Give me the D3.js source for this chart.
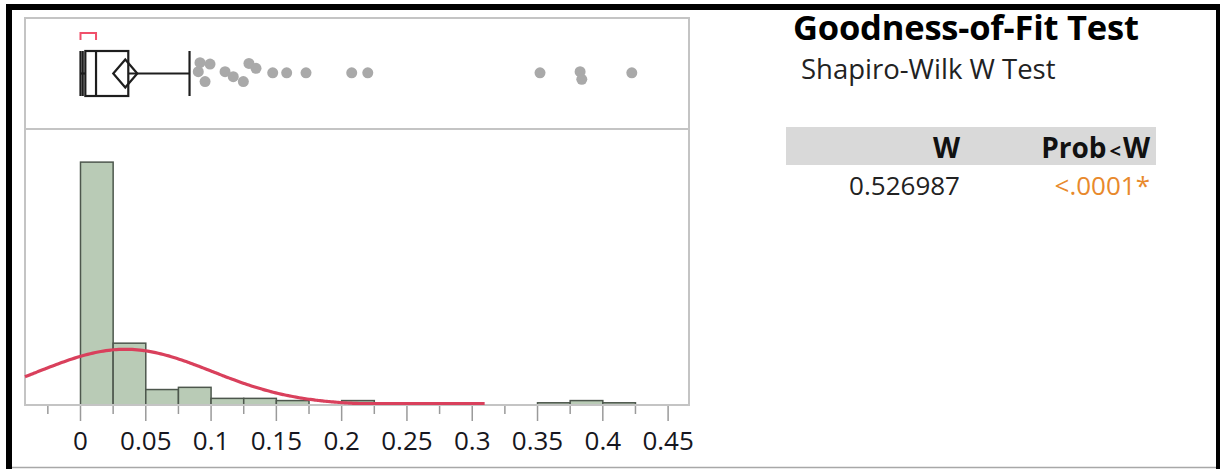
<!DOCTYPE html>
<html><head><meta charset="utf-8">
<script src="https://cdn.jsdelivr.net/npm/d3@7"></script>
<style>
body{margin:0;background:#fff;}
svg{display:block;font-family:"Open Sans",sans-serif;}
</style>
</head><body>
<svg id="chart" width="1220" height="469"></svg>
<script>
// ---------------- data ----------------
const binStarts = [0,0.025,0.05,0.075,0.1,0.125,0.15,0.175,0.2,0.225,0.25,0.275,0.3,0.325,0.35,0.375,0.4];
const binCounts = [110,28,7,8,3,3,2,0,2,0,0,0,0,0,1,2,1];
const binWidth = 0.025;

const tickValues = [-0.025,0,0.025,0.05,0.075,0.1,0.125,0.15,0.175,0.2,0.225,0.25,0.275,0.3,0.325,0.35,0.375,0.4,0.425,0.45];
const labelValues = [0,0.05,0.1,0.15,0.2,0.25,0.3,0.35,0.4,0.45];
const tickLabels = ["0","0.05","0.1","0.15","0.2","0.25","0.3","0.35","0.4","0.45"];

const boxNames = ["min","q1","median","q3","upperWhisker"];
const boxValues = [0, 0.0037, 0.0119, 0.0366, 0.0835];
const lowMarks = [0, 0.0017];
const shortestHalf = [0, 0.0119];
const meanValue = 0.0343;
const meanCIHalf = 0.0092;
const sdValue = 0.066;
const nObs = 167;
const curveEnd = 0.31;

const outlierValues = [0.0902,0.0915,0.0954,0.0992,0.1107,0.1170,0.1247,0.1290,0.1344,0.1472,0.1579,0.1727,0.2077,0.2200,0.3519,0.3826,0.3839,0.4222];
const outlierJitter = [-0.08,-0.48,0.36,-0.42,-0.08,0.14,0.36,-0.45,-0.23,-0.03,-0.03,-0.03,-0.03,-0.03,-0.03,-0.08,0.26,-0.03];

const titleText = "Goodness-of-Fit Test";
const subtitleText = "Shapiro-Wilk W Test";
const tableHeaders = ["W","Prob<W"];
const tableValues = ["0.526987","<.0001*"];

// ---------------- drawing ----------------
const svg = d3.select("#chart");

// outer border
svg.append("rect").attr("x",6).attr("y",4).attr("width",1214).attr("height",6).attr("fill","#000");
svg.append("rect").attr("x",6).attr("y",4).attr("width",6).attr("height",465).attr("fill","#000");
svg.append("rect").attr("x",1216).attr("y",4).attr("width",4).attr("height",465).attr("fill","#000");
svg.append("line").attr("x1",12).attr("x2",1216).attr("y1",467.5).attr("y2",467.5).attr("stroke","#a8a8a8").attr("stroke-width",1.5);

const left = 25, right = 689, boxTop = 18, split = 129, bottom = 405;
const x = d3.scaleLinear().domain([-0.0425, 0.466]).range([left, right]);
const y = d3.scaleLinear().domain([0, 125]).range([bottom, split]);

// histogram bars
svg.append("g").selectAll("rect").data(binStarts.map((s,i)=>({s,c:binCounts[i]})).filter(d=>d.c>0))
  .join("rect")
  .attr("x", d=>x(d.s)).attr("width", d=>x(d.s+binWidth)-x(d.s))
  .attr("y", d=>y(d.c)).attr("height", d=>y(0)-y(d.c))
  .attr("fill","#b9cbb6").attr("stroke","#4d574d").attr("stroke-width",1.5);

// frames
svg.append("rect").attr("x",left).attr("y",boxTop).attr("width",right-left).attr("height",split-boxTop)
  .attr("fill","none").attr("stroke","#c4c4c4").attr("stroke-width",2);
svg.append("rect").attr("x",left).attr("y",split).attr("width",right-left).attr("height",bottom-split)
  .attr("fill","none").attr("stroke","#c4c4c4").attr("stroke-width",2);

// normal curve
const pdf = v => nObs*binWidth*Math.exp(-0.5*Math.pow((v-meanValue)/sdValue,2))/(sdValue*Math.sqrt(2*Math.PI));
const curvePts = d3.range(x.domain()[0], curveEnd+1e-9, 0.002).map(v=>[v,pdf(v)]);
svg.append("path").datum(curvePts)
  .attr("d", d3.line().x(d=>x(d[0])).y(d=>Math.min(y(d[1]), bottom-1.5)).curve(d3.curveBasis))
  .attr("fill","none").attr("stroke","#d9405c").attr("stroke-width",3.2);

// axis ticks
const axisG = svg.append("g");
axisG.selectAll("line").data(tickValues).join("line")
  .attr("x1",d=>x(d)).attr("x2",d=>x(d))
  .attr("y1",bottom+1)
  .attr("y2",d=>labelValues.some(l=>Math.abs(l-d)<1e-9) ? bottom+16 : bottom+9)
  .attr("stroke","#9a9a9a").attr("stroke-width",1.5);
axisG.selectAll("text").data(labelValues).join("text")
  .attr("x",d=>x(d)).attr("y",450).attr("text-anchor","middle")
  .attr("font-size",26).attr("fill","#161620")
  .text((d,i)=>tickLabels[i]);

// box plot
const cy = 73.5, bh = 22.5;
const jy = d3.scaleLinear().domain([-1,1]).range([cy-bh, cy+bh]);
const bv = Object.fromEntries(boxNames.map((n,i)=>[n,boxValues[i]]));
const bp = svg.append("g").attr("stroke","#1e1e1e").attr("stroke-width",2.2).attr("fill","none");
bp.append("line").attr("x1",x(bv.min)).attr("x2",x(bv.q1)).attr("y1",cy).attr("y2",cy);
bp.append("line").attr("x1",x(bv.q3)).attr("x2",x(bv.upperWhisker)).attr("y1",cy).attr("y2",cy);
lowMarks.forEach(v=>bp.append("line").attr("x1",x(v)).attr("x2",x(v)).attr("y1",cy-bh).attr("y2",cy+bh));
bp.append("line").attr("x1",x(bv.upperWhisker)).attr("x2",x(bv.upperWhisker)).attr("y1",cy-bh).attr("y2",cy+bh);
bp.append("rect").attr("x",x(bv.q1)).attr("y",cy-bh).attr("width",x(bv.q3)-x(bv.q1)).attr("height",2*bh);
bp.append("line").attr("x1",x(bv.median)).attr("x2",x(bv.median)).attr("y1",cy-bh).attr("y2",cy+bh);
const dl = x(meanValue-meanCIHalf), dr = x(meanValue+meanCIHalf), dm = x(meanValue), dh = 14;
bp.append("path").attr("d",`M${dl},${cy}L${dm},${cy-dh}L${dr},${cy}L${dm},${cy+dh}Z`);
svg.append("path")
  .attr("d",`M${x(shortestHalf[0])},40V33H${x(shortestHalf[1])}V40`)
  .attr("fill","none").attr("stroke","#f0506a").attr("stroke-width",2);
svg.append("g").selectAll("circle").data(outlierValues).join("circle")
  .attr("cx",d=>x(d)).attr("cy",(d,i)=>jy(outlierJitter[i])).attr("r",5.5)
  .attr("fill","#a9a9a9");

// right panel text
svg.append("text").attr("x",793).attr("y",40).attr("font-size",34.5).attr("font-weight","bold")
  .attr("fill","#000").attr("letter-spacing",-0.2).text(titleText);
svg.append("text").attr("x",801).attr("y",79).attr("font-size",27.5).attr("fill","#222").text(subtitleText);

svg.append("rect").attr("x",786).attr("y",127).attr("width",370).attr("height",38).attr("fill","#d9d9d9");
svg.append("text").attr("x",960).attr("y",158).attr("text-anchor","end").attr("font-size",28)
  .attr("font-weight","bold").attr("fill","#111").text(tableHeaders[0]);
const ph = svg.append("text").attr("x",1150).attr("y",158).attr("text-anchor","end").attr("font-size",28)
  .attr("font-weight","bold").attr("fill","#111");
const parts = tableHeaders[1].split("<");
ph.append("tspan").text(parts[0]);
ph.append("tspan").attr("font-size",20).attr("dx",3).text("<");
ph.append("tspan").attr("dx",2).text(parts[1]);
svg.append("text").attr("x",960).attr("y",195).attr("text-anchor","end").attr("font-size",26)
  .attr("fill","#222").text(tableValues[0]);
svg.append("text").attr("x",1150).attr("y",195).attr("text-anchor","end").attr("font-size",26)
  .attr("fill","#e8892c").text(tableValues[1]);
</script>
</body></html>
